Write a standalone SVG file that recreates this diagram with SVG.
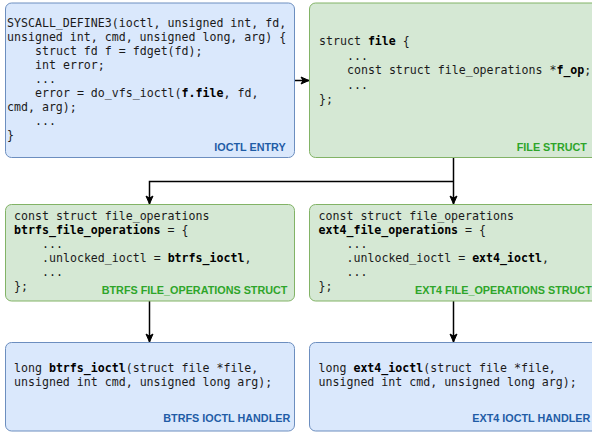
<svg xmlns="http://www.w3.org/2000/svg" width="592" height="433" viewBox="0 0 592 433">
<style>
  .blue { fill: #dae8fc; stroke: #6c8ebf; stroke-width: 1; }
  .green { fill: #d5e8d4; stroke: #82b366; stroke-width: 1; }
  .code { font-family: "DejaVu Sans Mono", "Liberation Mono", monospace; font-size: 11.6px; fill: #1a1a1a; }
  .b { font-weight: bold; fill: #000; }
  .lblB { font-family: "Liberation Sans", Arial, sans-serif; font-weight: bold; font-size: 10.8px; fill: #1f5ca6; }
  .lblG { font-family: "Liberation Sans", Arial, sans-serif; font-weight: bold; font-size: 10.8px; fill: #2ea52a; }
  .edge { fill: none; stroke: #000; stroke-width: 1.5; }
</style>
<defs>
  <marker id="arr" markerUnits="userSpaceOnUse" markerWidth="10" markerHeight="10" viewBox="0 0 10 10" refX="9" refY="5" orient="auto">
    <path d="M1,1.5 L9,5 L1,8.5 L3,5 Z" fill="#000" stroke="#000" stroke-width="1"/>
  </marker>
</defs>

<g id="connectors">
  <path class="edge" d="M294,80.5 L309,80.5" marker-end="url(#arr)"/>
  <path class="edge" d="M453.5,157 L453.5,204" marker-end="url(#arr)"/>
  <path class="edge" d="M453.5,181.5 L149.5,181.5 L149.5,204" marker-end="url(#arr)"/>
  <path class="edge" d="M149.5,301 L149.5,342" marker-end="url(#arr)"/>
  <path class="edge" d="M453.5,301 L453.5,342" marker-end="url(#arr)"/>
</g>

<g id="ioctl-entry">
  <rect class="blue" x="5.5" y="3" width="289" height="154.5" rx="6" ry="6"/>
  <text class="code" x="7" y="27">SYSCALL_DEFINE3(ioctl, unsigned int, fd,</text>
  <text class="code" x="7" y="41">unsigned int, cmd, unsigned long, arg) {</text>
  <text class="code" x="35" y="55">struct fd f = fdget(fd);</text>
  <text class="code" x="35" y="69">int error;</text>
  <text class="code" x="35" y="83">...</text>
  <text class="code" x="35" y="97">error = do_vfs_ioctl(<tspan class="b">f.file</tspan>, fd,</text>
  <text class="code" x="7" y="111">cmd, arg);</text>
  <text class="code" x="35" y="125">...</text>
  <text class="code" x="7" y="139">}</text>
  <text class="lblB" x="214.3" y="150.6">IOCTL ENTRY</text>
</g>

<g id="file-struct">
  <rect class="green" x="309.5" y="3" width="289" height="154.5" rx="6" ry="6"/>
  <text class="code" x="319" y="45">struct <tspan class="b">file</tspan> {</text>
  <text class="code" x="347" y="59.5">...</text>
  <text class="code" x="347" y="74">const struct file_operations *<tspan class="b">f_op</tspan>;</text>
  <text class="code" x="347" y="88.5">...</text>
  <text class="code" x="319" y="103">};</text>
  <text class="lblG" x="516.7" y="150.6">FILE STRUCT</text>
</g>

<g id="btrfs-fops">
  <rect class="green" x="5.5" y="204.5" width="289" height="96.5" rx="6" ry="6"/>
  <text class="code" x="14" y="220">const struct file_operations</text>
  <text class="code" x="14" y="234"><tspan class="b">btrfs_file_operations</tspan> = {</text>
  <text class="code" x="42" y="248">...</text>
  <text class="code" x="42" y="262">.unlocked_ioctl = <tspan class="b">btrfs_ioctl</tspan>,</text>
  <text class="code" x="42" y="276">...</text>
  <text class="code" x="14" y="290">};</text>
  <text class="lblG" x="101.7" y="294">BTRFS FILE_OPERATIONS STRUCT</text>
</g>

<g id="ext4-fops">
  <rect class="green" x="309.5" y="204.5" width="289" height="96.5" rx="6" ry="6"/>
  <text class="code" x="318.5" y="220">const struct file_operations</text>
  <text class="code" x="318.5" y="234"><tspan class="b">ext4_file_operations</tspan> = {</text>
  <text class="code" x="346.5" y="248">...</text>
  <text class="code" x="346.5" y="262">.unlocked_ioctl = <tspan class="b">ext4_ioctl</tspan>,</text>
  <text class="code" x="346.5" y="276">...</text>
  <text class="code" x="318.5" y="290">};</text>
  <text class="lblG" x="415" y="294">EXT4 FILE_OPERATIONS STRUCT</text>
</g>

<g id="btrfs-handler">
  <rect class="blue" x="5.5" y="342.5" width="289" height="88.5" rx="6" ry="6"/>
  <text class="code" x="14" y="372">long <tspan class="b">btrfs_ioctl</tspan>(struct file *file,</text>
  <text class="code" x="14" y="386">unsigned int cmd, unsigned long arg);</text>
  <text class="lblB" x="163.3" y="422">BTRFS IOCTL HANDLER</text>
</g>

<g id="ext4-handler">
  <rect class="blue" x="309.5" y="342.5" width="289" height="88.5" rx="6" ry="6"/>
  <text class="code" x="318.5" y="372">long <tspan class="b">ext4_ioctl</tspan>(struct file *file,</text>
  <text class="code" x="318.5" y="386">unsigned int cmd, unsigned long arg);</text>
  <text class="lblB" x="472.3" y="422">EXT4 IOCTL HANDLER</text>
</g>
</svg>
